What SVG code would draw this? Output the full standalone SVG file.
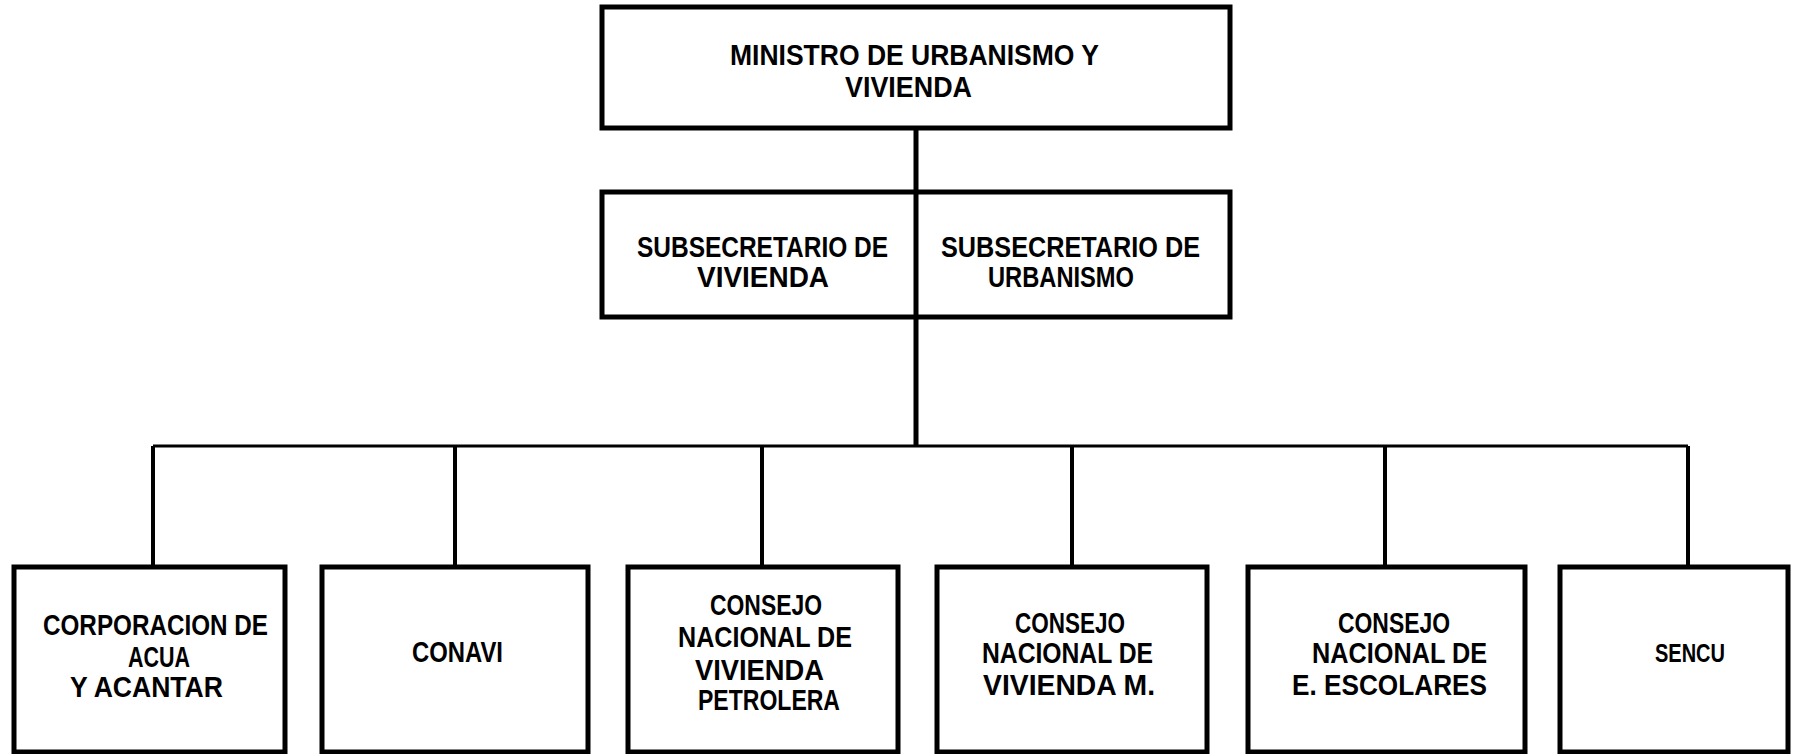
<svg xmlns="http://www.w3.org/2000/svg" width="1797" height="754" viewBox="0 0 1797 754">
<style>
.box{fill:#fff;stroke:#000;stroke-width:5}
.ln{fill:none;stroke:#000;stroke-width:4}
text{font-family:"Liberation Sans",Arial,sans-serif;font-weight:bold;font-size:29px;fill:#000}
</style>
<rect width="1797" height="754" fill="#fff"/>
<g id="connectors">
<line class="ln" x1="916" y1="128" x2="916" y2="446" style="stroke-width:5"/>
<line class="ln" x1="153" y1="446" x2="1688" y2="446" style="stroke-width:3"/>
<line class="ln" x1="153" y1="446" x2="153" y2="567"/>
<line class="ln" x1="455" y1="446" x2="455" y2="567"/>
<line class="ln" x1="762" y1="446" x2="762" y2="567"/>
<line class="ln" x1="1072" y1="446" x2="1072" y2="567"/>
<line class="ln" x1="1385" y1="446" x2="1385" y2="567"/>
<line class="ln" x1="1688" y1="446" x2="1688" y2="567"/>
</g>
<g id="ministro">
<rect class="box" x="602" y="7" width="628" height="121"/>
<text x="730" y="65" textLength="369" lengthAdjust="spacingAndGlyphs">MINISTRO DE URBANISMO Y</text>
<text x="845" y="97" textLength="127" lengthAdjust="spacingAndGlyphs">VIVIENDA</text>
</g>
<g id="subsecretarios">
<rect class="box" x="602" y="192" width="628" height="125"/>
<line class="ln" x1="916" y1="192" x2="916" y2="317" style="stroke-width:5"/>
</g>
<g id="sub-vivienda">
<text x="637" y="257" textLength="251" lengthAdjust="spacingAndGlyphs">SUBSECRETARIO DE</text>
<text x="697" y="287" textLength="132" lengthAdjust="spacingAndGlyphs">VIVIENDA</text>
</g>
<g id="sub-urbanismo">
<text x="941" y="257" textLength="259" lengthAdjust="spacingAndGlyphs">SUBSECRETARIO DE</text>
<text x="988" y="287" textLength="146" lengthAdjust="spacingAndGlyphs">URBANISMO</text>
</g>
<g id="corporacion">
<rect class="box" x="14" y="567" width="271" height="185"/>
<text x="43" y="635" textLength="225" lengthAdjust="spacingAndGlyphs">CORPORACION DE</text>
<text x="128" y="667" textLength="62" lengthAdjust="spacingAndGlyphs">ACUA</text>
<text x="70" y="697" textLength="153" lengthAdjust="spacingAndGlyphs">Y ACANTAR</text>
</g>
<g id="conavi">
<rect class="box" x="322" y="567" width="266" height="185"/>
<text x="412" y="662" textLength="91" lengthAdjust="spacingAndGlyphs">CONAVI</text>
</g>
<g id="cnv-petrolera">
<rect class="box" x="628" y="567" width="270" height="185"/>
<text x="710" y="615" textLength="112" lengthAdjust="spacingAndGlyphs">CONSEJO</text>
<text x="678" y="647" textLength="174" lengthAdjust="spacingAndGlyphs">NACIONAL DE</text>
<text x="695" y="680" textLength="129" lengthAdjust="spacingAndGlyphs">VIVIENDA</text>
<text x="698" y="710" textLength="142" lengthAdjust="spacingAndGlyphs">PETROLERA</text>
</g>
<g id="cnv-m">
<rect class="box" x="937" y="567" width="270" height="185"/>
<text x="1015" y="633" textLength="110" lengthAdjust="spacingAndGlyphs">CONSEJO</text>
<text x="982" y="663" textLength="171" lengthAdjust="spacingAndGlyphs">NACIONAL DE</text>
<text x="983" y="695" textLength="172" lengthAdjust="spacingAndGlyphs">VIVIENDA M.</text>
</g>
<g id="cn-escolares">
<rect class="box" x="1248" y="567" width="277" height="185"/>
<text x="1338" y="633" textLength="112" lengthAdjust="spacingAndGlyphs">CONSEJO</text>
<text x="1312" y="663" textLength="175" lengthAdjust="spacingAndGlyphs">NACIONAL DE</text>
<text x="1292" y="695" textLength="195" lengthAdjust="spacingAndGlyphs">E. ESCOLARES</text>
</g>
<g id="sencu">
<rect class="box" x="1560" y="567" width="228" height="185"/>
<text x="1655" y="662" textLength="70" lengthAdjust="spacingAndGlyphs" style="font-size:25px">SENCU</text>
</g>
</svg>
